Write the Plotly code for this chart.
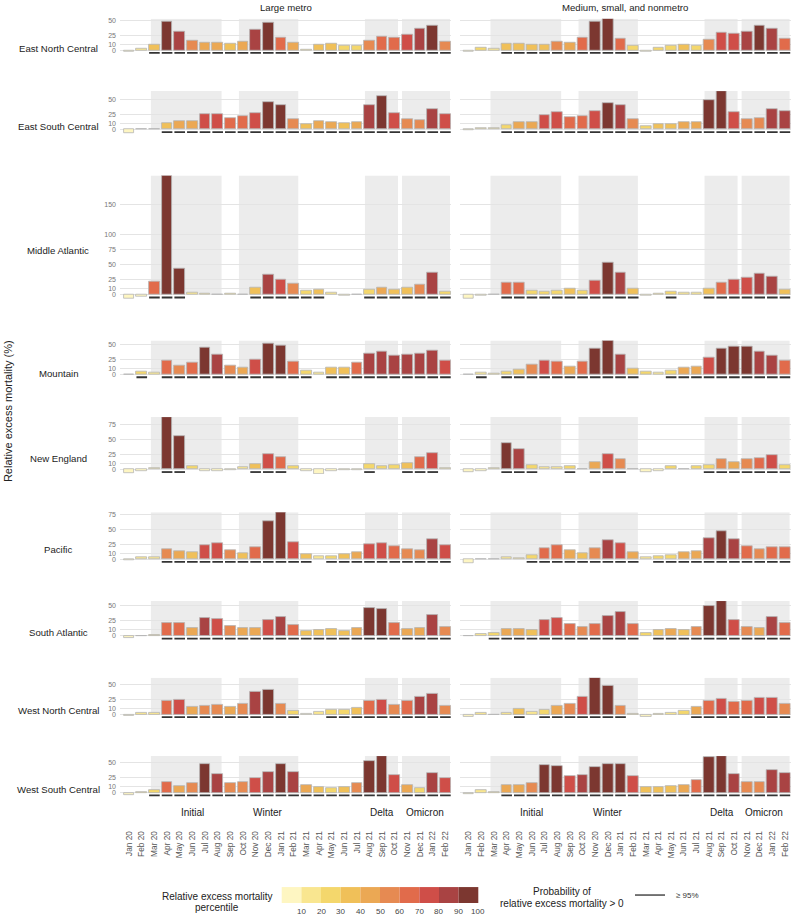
import numpy as np
import plotly.graph_objects as go

# ---------------- data ----------------
months = ["Jan 20", "Feb 20", "Mar 20", "Apr 20", "May 20", "Jun 20", "Jul 20", "Aug 20",
          "Sep 20", "Oct 20", "Nov 20", "Dec 20", "Jan 21", "Feb 21", "Mar 21", "Apr 21",
          "May 21", "Jun 21", "Jul 21", "Aug 21", "Sep 21", "Oct 21", "Nov 21", "Dec 21",
          "Jan 22", "Feb 22"]
columns = ["Large metro", "Medium, small, and nonmetro"]
regions = ["East North Central", "East South Central", "Middle Atlantic", "Mountain",
           "New England", "Pacific", "South Atlantic", "West North Central", "West South Central"]

# relative excess mortality (%) by month
enc_large = [-3, 3.3, 8.7, 47.8, 31.5, 16.3, 12.5, 13, 10.3, 14.1, 34.8, 45.7, 21.7, 12, 1, 8.7, 11.4, 7, 8.2, 15.8, 23.4, 21.7, 26, 36.4, 40.8, 14.7]
enc_other = [-3, 4.9, 3.3, 11.4, 11.4, 8.7, 9.8, 14.7, 12, 21.2, 47.3, 52.7, 20.1, 7.1, -2, 4.9, 8.2, 8.7, 8.2, 17.4, 29.3, 28.3, 31.5, 40.8, 35.3, 18.5]
esc_large = [-5.5, 1, 0.5, 10.6, 14, 14, 25, 25, 19.4, 22.8, 27.8, 45, 41, 17.2, 9.4, 14.4, 12.8, 11.1, 12.8, 40, 55.6, 27.2, 16.7, 15, 34.4, 25]
esc_other = [-2, 1.7, 2.8, 7.8, 12.8, 12.8, 24.4, 28.9, 20, 21.7, 30, 44.4, 40.6, 17.8, 5.6, 9.4, 9.4, 12.2, 12.8, 48.3, 63.9, 29.4, 17.2, 18.3, 33.3, 31.1]
mat_large = [-6, -3, 22.2, 199, 43.9, 3.9, 2.2, 0.6, 1.1, 0.5, 11.1, 33.9, 25.6, 17.8, 7.2, 9.4, 3.9, -1, 0.5, 8.3, 12.2, 8.9, 11.7, 17.2, 37.2, 5.6]
mat_other = [-6.7, -1, 0.5, 20.6, 20.6, 7.2, 5.6, 7.2, 10, 6.1, 23.9, 54.4, 36.7, 10, -1, 2.2, 5.6, 3.3, 4.4, 10.6, 20.6, 25.6, 28.3, 36.1, 30.6, 9.4]
mtn_large = [0.5, 5, 3.9, 23.3, 15.6, 19.4, 45.6, 33.3, 15, 12.2, 25, 51.7, 47.8, 21.7, 6.7, 3.9, 11.7, 11.7, 19.4, 35.6, 37.8, 32.2, 33.9, 35.6, 40.6, 23.9]
mtn_other = [0.5, 3.9, 2.2, 5.6, 8.9, 17.2, 23.9, 22.2, 13.9, 21.1, 43.3, 56.7, 33.3, 10, 5.6, 3.9, 7.2, 12.2, 13.9, 28.9, 43.3, 46.7, 46.7, 38.9, 32.2, 23.3]
ne_large = [-5.6, -2.2, 2.2, 87.2, 55, 5, -2.2, -3.3, -0.5, 3.3, 8.9, 26.1, 20.6, 5.6, -3.3, -7.2, -3.3, -0.5, -1, 8.3, 6.1, 6.7, 10.6, 21.1, 26.7, 2.2]
ne_other = [-4.4, -2.2, 2.2, 44.4, 33.3, 6.7, 3.9, 3.9, 5.6, 0.5, 11.7, 25.6, 17.8, 0.5, -5, -3.3, 5, 0.3, 5, 7.8, 17.2, 12.8, 17.2, 19.4, 23.9, 6.7]
pac_large = [-2.2, 3.3, 3.3, 16.7, 12.8, 11.1, 23.9, 26.1, 15, 10.6, 20, 63.9, 78.3, 28.9, 8.9, 4.4, 5.6, 8.9, 11.7, 25.6, 27.2, 21.7, 16.1, 15.6, 33.9, 23.9]
pac_other = [-6.7, 0.5, -0.5, 3.3, 1.7, 7.2, 18.9, 23.3, 14.4, 10, 18.3, 31.7, 27.2, 12.2, 3.9, 5.6, 7.2, 11.7, 13.9, 35, 46.7, 33.9, 22.2, 16.1, 20.6, 20]
sat_large = [-2.8, 0.5, 2.2, 22.2, 21.7, 13.9, 30.6, 28.9, 17.2, 13.3, 13.3, 26.7, 32.2, 18.9, 8.9, 10.6, 11.1, 8.9, 13.9, 46.1, 45, 21.7, 12.2, 12.8, 35, 15.6]
sat_other = [0.3, 3.3, 5, 11.7, 12.2, 10.6, 26.7, 30, 20.6, 15.6, 20.6, 32.8, 40.6, 20.6, 5, 10.6, 11.7, 10.6, 15, 49.4, 58.3, 27.2, 15.6, 13.9, 31.1, 22.2]
wnc_large = [-2.8, 3.3, 2.2, 22.2, 24.4, 12.8, 14.4, 16.1, 12.2, 17.8, 38.3, 41.7, 17.8, 6.1, 0.3, 4.4, 7.8, 7.8, 10.6, 22.8, 24.4, 16.1, 22.8, 30, 34.4, 15]
wnc_other = [-3.3, 2.8, -0.5, 2.8, 9.4, 4.4, 7.8, 13.9, 17.8, 29.4, 61.1, 48.3, 14.4, 1.1, -3.9, 1.1, 3.3, 5.6, 12.2, 22.2, 26.1, 21.7, 22.8, 27.8, 27.8, 17.8]
wsc_large = [-3.3, 1, 5, 18.3, 11.7, 16.7, 47.2, 31.7, 16.7, 17.8, 23.9, 35, 48.3, 34.4, 12.8, 10, 8.3, 10, 16.7, 52.8, 60.6, 29.4, 12.8, 8.3, 33.3, 23.9]
wsc_other = [-2.2, 4.4, 1.1, 13.3, 12.2, 16.7, 46.1, 44.4, 27.2, 30, 42.8, 48.3, 48.3, 28.3, 10, 10, 10.6, 13.3, 21.1, 59.4, 61.1, 31.1, 17.8, 17.2, 38.3, 33.3]

# probability of relative excess mortality > 0 is >= 95% (1 = yes)
enc_large_sig = [0,0,1,1,1,1,1,1,1,1,1,1,1,1,0,1,1,1,1,1,1,1,1,1,1,1]
enc_other_sig = [0,0,0,1,1,1,1,1,1,1,1,1,1,1,0,0,1,1,1,1,1,1,1,1,1,1]
esc_large_sig = [0,0,0,1,1,1,1,1,1,1,1,1,1,1,1,1,1,1,1,1,1,1,1,1,1,1]
esc_other_sig = [0,0,0,1,1,1,1,1,1,1,1,1,1,1,1,1,1,1,1,1,1,1,1,1,1,1]
mat_large_sig = [0,0,1,1,1,0,0,0,0,0,1,1,1,1,1,1,0,0,0,1,1,1,1,1,1,1]
mat_other_sig = [0,0,0,1,1,1,1,1,1,1,1,1,1,1,0,0,1,0,0,1,1,1,1,1,1,1]
mtn_large_sig = [0,1,0,1,1,1,1,1,1,1,1,1,1,1,1,0,1,1,1,1,1,1,1,1,1,1]
mtn_other_sig = [0,1,0,1,1,1,1,1,1,1,1,1,1,1,0,0,1,1,1,1,1,1,1,1,1,1]
ne_large_sig = [0,0,0,1,1,0,0,0,0,0,1,1,1,0,0,0,0,0,0,1,0,0,1,1,1,0]
ne_other_sig = [0,0,0,1,1,1,0,0,1,0,1,1,1,0,0,0,0,0,0,1,1,1,1,1,1,1]
pac_large_sig = [0,0,0,1,1,1,1,1,1,1,1,1,1,1,1,0,1,1,1,1,1,1,1,1,1,1]
pac_other_sig = [0,0,0,0,0,1,1,1,1,1,1,1,1,1,0,1,1,1,1,1,1,1,1,1,1,1]
sat_large_sig = [0,0,0,1,1,1,1,1,1,1,1,1,1,1,1,1,1,1,1,1,1,1,1,1,1,1]
sat_other_sig = [0,0,1,1,1,1,1,1,1,1,1,1,1,1,0,1,1,1,1,1,1,1,1,1,1,1]
wnc_large_sig = [0,0,0,1,1,1,1,1,1,1,1,1,1,1,0,0,1,1,1,1,1,1,1,1,1,1]
wnc_other_sig = [0,0,0,0,1,0,1,1,1,1,1,1,1,0,0,0,0,0,1,1,1,1,1,1,1,1]
wsc_large_sig = [0,0,1,1,1,1,1,1,1,1,1,1,1,1,1,1,1,1,1,1,1,1,1,1,1,1]
wsc_other_sig = [0,0,0,1,1,1,1,1,1,1,1,1,1,1,1,1,1,1,1,1,1,1,1,1,1,1]

# pandemic periods, in month-index units on the x scale
period_names = ["Initial", "Winter", "Delta", "Omicron"]
period_start = [1.72, 8.68, 18.64, 21.57]
period_end = [7.31, 13.37, 21.25, 25.36]
period_label_pos = [5.0, 11.0, 20.0, 23.35]

percentile_ticks = [10, 20, 30, 40, 50, 60, 70, 80, 90, 100]
palette = ["#FEF6C2", "#F9E690", "#F4D76C", "#F0C059", "#EBA854",
           "#E68A52", "#E16B4B", "#CF4E48", "#A94343", "#7C3730"]
y_tick_candidates = [0, 10, 25, 50, 75, 100, 150]

panels = [
    [(enc_large, enc_large_sig), (enc_other, enc_other_sig)],
    [(esc_large, esc_large_sig), (esc_other, esc_other_sig)],
    [(mat_large, mat_large_sig), (mat_other, mat_other_sig)],
    [(mtn_large, mtn_large_sig), (mtn_other, mtn_other_sig)],
    [(ne_large, ne_large_sig), (ne_other, ne_other_sig)],
    [(pac_large, pac_large_sig), (pac_other, pac_other_sig)],
    [(sat_large, sat_large_sig), (sat_other, sat_other_sig)],
    [(wnc_large, wnc_large_sig), (wnc_other, wnc_other_sig)],
    [(wsc_large, wsc_large_sig), (wsc_other, wsc_other_sig)],
]

# percentile bins over all values
all_vals = np.concatenate([np.array(v, float) for row in panels for (v, s) in row])
order = np.argsort(all_vals, kind="stable")
ranks = np.empty(len(all_vals), int)
ranks[order] = np.arange(len(all_vals))
pct = (ranks + 1) / len(all_vals)
bins = np.clip(np.ceil(pct * 10).astype(int), 1, 10) - 1

# ---------------- layout geometry ----------------
W, H = 795, 916
FONT = "Liberation Sans, Arial, sans-serif"
ROW_TOP_PX = [16.7, 89.3, 174.0, 339.3, 416.0, 511.3, 600.3, 677.3, 755.7]
REGION_LABEL_PX = [47, 124.5, 249, 372, 457, 549, 632, 710, 789]
PX_PER_UNIT = 0.6
Y_LO = -8
X_RANGE = [-0.72, 25.45]
COL_LEFT_PX = [120.0, 459.6]
COL_W_PX = 331.1
BAR_W = 0.84
UL_Y = -4.6


def px_y(p):
    return 1 - p / H


def px_x(p):
    return p / W


def text_at(x, y, text, size, color="#222222", xanchor="center", **kw):
    d = dict(x=x, y=y, text=text, showarrow=False, xanchor=xanchor, yanchor="middle",
             font=dict(size=size, color=color, family=FONT))
    d.setdefault("xref", "paper")
    d.setdefault("yref", "paper")
    d.update(kw)
    return d


fig = go.Figure()
layout = dict()
shapes = []
annotations = []

n = len(months)
idx = 0
for r, row in enumerate(panels):
    hi = max(max(row[0][0]), max(row[1][0]))
    top = ROW_TOP_PX[r]
    zero = top + hi * PX_PER_UNIT
    bottom = zero - Y_LO * PX_PER_UNIT
    ticks = [t for t in y_tick_candidates if t <= hi + 0.5]
    for c, (vals, sig) in enumerate(row):
        k = 2 * r + c + 1
        xa = "x" if k == 1 else f"x{k}"
        ya = "y" if k == 1 else f"y{k}"
        cols = [palette[b] for b in bins[idx: idx + n]]
        idx += n
        fig.add_trace(go.Bar(
            x=list(range(n)), y=vals, xaxis=xa, yaxis=ya, width=BAR_W,
            marker=dict(color=cols, line=dict(color="#b5b5b5", width=0.8)),
            showlegend=False, hoverinfo="skip"))
        ux, uy = [], []
        for i, s in enumerate(sig):
            if s:
                ux += [i - BAR_W / 2, i + BAR_W / 2, None]
                uy += [UL_Y, UL_Y, None]
        fig.add_trace(go.Scatter(
            x=ux, y=uy, xaxis=xa, yaxis=ya, mode="lines",
            line=dict(color="#333333", width=1.8), showlegend=False, hoverinfo="skip"))
        for p0, p1 in zip(period_start, period_end):
            shapes.append(dict(type="rect", xref=xa, yref=ya, x0=p0, x1=p1, y0=0, y1=hi,
                               fillcolor="#ececec", line=dict(width=0), layer="below"))
        xname = "xaxis" if k == 1 else f"xaxis{k}"
        yname = "yaxis" if k == 1 else f"yaxis{k}"
        bottom_row = (r == len(panels) - 1)
        layout[xname] = dict(
            domain=[px_x(COL_LEFT_PX[c]), px_x(COL_LEFT_PX[c] + COL_W_PX)],
            anchor=ya, range=X_RANGE, showgrid=False, zeroline=False, showline=False,
            ticks="", tickmode="array", tickvals=list(range(n)), ticktext=months,
            showticklabels=bottom_row, tickangle=-90,
            tickfont=dict(size=8.3, color="#555555", family=FONT),
            ticklabelstandoff=31, fixedrange=True)
        layout[yname] = dict(
            domain=[px_y(bottom), px_y(top)], anchor=xa, range=[Y_LO, hi],
            showgrid=True, gridcolor="#e4e4e4", gridwidth=1, zeroline=False,
            showline=False, ticks="", tickmode="array", tickvals=ticks,
            ticktext=[str(t) for t in ticks], showticklabels=(c == 0),
            tickfont=dict(size=7, color="#777777", family=FONT),
            ticklabelstandoff=3, fixedrange=True)
    annotations.append(text_at(px_x(58), px_y(REGION_LABEL_PX[r]), regions[r], 9.6))

# column titles
for c, title in enumerate(columns):
    annotations.append(text_at(px_x(COL_LEFT_PX[c] + COL_W_PX / 2), px_y(6), title, 9.6))

# period labels below bottom row
for c in range(2):
    k = 16 + c + 1
    for name, pos in zip(period_names, period_label_pos):
        annotations.append(text_at(pos, px_y(812), name, 10, xref=f"x{k}"))

# y title
annotations.append(text_at(px_x(8), px_y(410), "Relative excess mortality (%)", 11,
                           textangle=-90))

# colour legend
LEG_X0, LEG_BW = 281.7, 19.66
annotations.append(text_at(px_x(217), px_y(896.7), "Relative excess mortality", 10))
annotations.append(text_at(px_x(217), px_y(907.7), "percentile", 10))
for i, col in enumerate(palette):
    shapes.append(dict(type="rect", xref="paper", yref="paper",
                       x0=px_x(LEG_X0 + i * LEG_BW), x1=px_x(LEG_X0 + (i + 1) * LEG_BW),
                       y0=px_y(903), y1=px_y(887), fillcolor=col, line=dict(width=0)))
    annotations.append(text_at(px_x(LEG_X0 + (i + 1) * LEG_BW), px_y(911.5),
                               str(percentile_ticks[i]), 8, color="#444444"))

# probability legend
annotations.append(text_at(px_x(562), px_y(891.5), "Probability of", 10))
annotations.append(text_at(px_x(562), px_y(903), "relative excess mortality > 0", 10))
shapes.append(dict(type="line", xref="paper", yref="paper", x0=px_x(635), x1=px_x(665),
                   y0=px_y(895), y1=px_y(895), line=dict(color="#555555", width=1.6)))
annotations.append(text_at(px_x(674), px_y(895), "≥ 95%", 8, color="#333333", xanchor="left"))

fig.update_layout(
    width=W, height=H, margin=dict(l=0, r=0, t=0, b=0),
    paper_bgcolor="white", plot_bgcolor="white",
    font=dict(family=FONT), bargap=0, showlegend=False,
    shapes=shapes, annotations=annotations, **layout)

fig.write_html("out.html", config={"displayModeBar": False},
               post_script="document.body.style.margin='0';document.body.style.overflow='hidden';")
